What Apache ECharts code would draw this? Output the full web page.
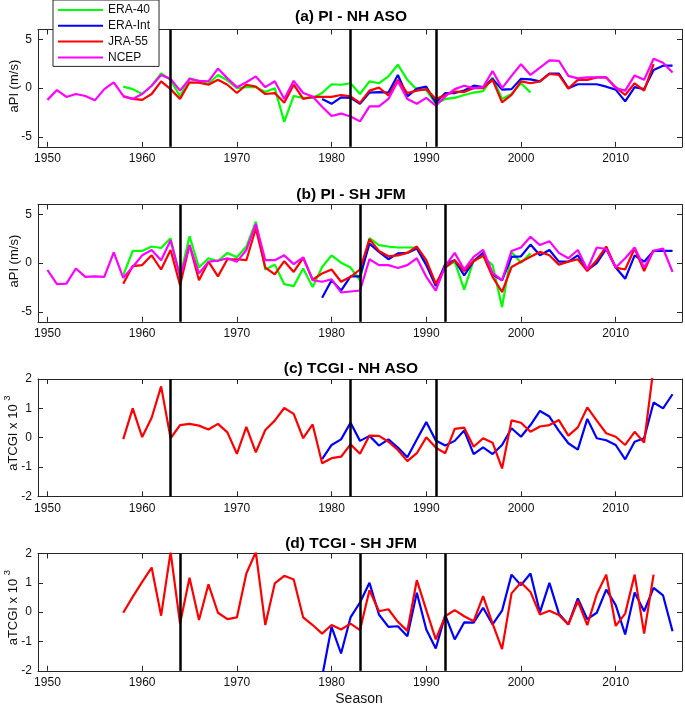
<!DOCTYPE html>
<html><head><meta charset="utf-8">
<script src="https://cdn.jsdelivr.net/npm/echarts@6/dist/echarts.min.js"></script>
<style>html,body{margin:0;padding:0;background:#fff}#c{width:685px;height:706px}</style>
</head><body><div id="c"></div><script>
// ---------- DATA ----------
const seriesNames = ['ERA-40', 'ERA-Int', 'JRA-55', 'NCEP'];
const seriesColors = ['#00ff00', '#0000ff', '#ff0000', '#ff00ff'];
const startERA40 = 1958, startERAInt = 1979, startJRA55 = 1958, startNCEP = 1950;
const xTickLabels = [1950, 1960, 1970, 1980, 1990, 2000, 2010];
const titles = ['(a) PI - NH ASO', '(b) PI - SH JFM', '(c) TCGI - NH ASO', '(d) TCGI - SH JFM'];
const eruptionsNH = [1963, 1982, 1991];
const eruptionsSH = [1964, 1983, 1992];

// (a) PI - NH ASO
const a_ERA40 = [0.15,-0.1,-0.6,0.25,1.5,0.85,-0.85,1.0,0.7,0.45,
  1.35,0.8,0,0.1,0.1,-0.4,0,-3.45,-0.8,-1.0,
  -1.0,-0.5,0.4,0.35,0.5,-0.6,0.7,0.5,1.2,2.4,
  0.85,-0.15,-0.2,-1.6,-1.1,-1.0,-0.7,-0.45,-0.3,1.1,
  -1.1,-0.6,0.5,-0.45];
const a_ERAInt = [-1.1,-1.6,-0.95,-1.0,-1.6,-0.45,-0.4,-0.45,1.35,-0.85,
  -0.05,0.15,-1.5,-0.5,-0.5,-0.25,0.25,0.1,0.95,-0.15,
  -0.1,0.95,0.9,0.7,1.5,1.5,0,0.4,0.4,0.4,
  0.15,-0.15,-1.35,0.1,-0.1,1.85,2.3,2.3];
const a_JRA55 = [-0.85,-1.1,-1.2,-0.6,0.7,-0.1,-1.1,0.6,0.55,0.35,
  0.85,0.35,-0.5,0.35,0.15,-0.6,-0.5,-1.5,0.35,-1.1,
  -0.9,-0.9,-0.9,-0.7,-0.85,-1.5,-0.25,0.05,-0.75,0.85,
  -0.5,-0.25,-0.1,-1.1,-0.7,-0.35,-0.4,0,0,0.85,
  -1.45,-0.7,0.7,0.5,0.7,1.45,1.35,-0.05,0.85,0.85,
  1.1,1.1,0.1,-0.7,0.5,-0.25,2.45];
const a_NCEP = [-1.2,-0.2,-0.9,-0.6,-0.8,-1.25,-0.1,0.6,-0.8,-1.1,
  -0.6,0.25,1.35,0.95,-0.25,0.95,0.75,0.7,2.0,1.0,
  0.1,0.6,1.2,0.1,0.7,-1.1,0.75,-0.5,-0.85,-1.9,
  -2.85,-2.6,-2.9,-3.4,-1.86,-1.86,-1.1,0.7,-1.1,-1.6,
  -1.0,-1.8,-0.85,-0.1,0.25,0,0.1,1.75,0,1.25,
  2.45,1.35,2.1,2.85,2.8,1.25,1.0,1.1,1.1,1.1,
  0,-0.25,1.3,0.85,3.0,2.6,1.6];

// (b) PI - SH JFM
const b_ERA40 = [-1.25,1.25,1.25,1.7,1.55,2.55,-1.4,2.75,-0.45,0.5,
  0.2,1.05,0.6,1.7,4.25,-0.65,-0.15,-2.15,-2.35,-0.55,
  -2.45,-0.4,0.8,0.05,-0.45,-1.75,2.55,1.85,1.7,1.6,
  1.6,1.6,0.15,-2.25,-0.4,0.15,-2.7,0.3,0.65,-0.2,
  -4.5,1.15,0.05,1.0];
const b_ERAInt = [-3.55,-1.75,-2.8,-1.35,-1.35,2.0,1.15,0.4,1.0,1.05,
  1.5,-0.2,-2.35,-0.1,0.3,-1.25,0.2,1.05,-1.15,-1.75,
  0.65,0.7,1.9,0.8,1.35,0.15,0.15,0.8,-0.7,0,
  1.45,-0.45,-1.6,0.8,0.15,1.25,1.25,1.25];
const b_JRA55 = [-2.1,-0.3,-0.2,0.8,-0.65,1.35,-2.25,1.85,-1.75,0.15,
  -1.35,0.4,0.4,0.3,3.55,-0.45,-1.15,0.2,-0.9,0.55,
  -1.7,-1.05,-0.65,-1.9,-1.4,-0.65,2.45,1.25,0.7,0.8,
  1.05,1.7,0.3,-2.1,-0.45,0.3,-0.8,0.2,0.8,-1.4,
  -2.95,-0.4,0.15,0.65,1.15,0.8,-0.15,0.15,0.4,-0.8,
  0.3,1.7,-0.45,-0.65,1.5,-0.8,1.35];
const b_NCEP = [-0.7,-2.15,-2.1,-0.55,-1.4,-1.35,-1.4,1.1,-1.5,-0.4,
  0.8,1.35,0.3,2.35,-1.4,1.85,-1.05,0.15,0.25,0.5,
  0.15,1.35,4.0,0.3,0.3,0.8,-0.1,0.6,-1.75,-1.9,
  -1.65,-3.0,-2.9,-2.8,0.4,-0.2,-0.2,-0.5,-0.2,0.5,
  -1.4,-2.8,-0.3,1.05,-0.65,0.65,1.35,-1.0,-1.75,1.25,
  1.6,2.7,1.85,2.25,1.05,0.5,1.35,-0.65,1.6,1.45,
  -0.45,0.5,1.6,-0.45,1.25,1.5,-0.9];

// (c) TCGI - NH ASO
const c_ERAInt = [-0.73,-0.25,-0.06,0.51,-0.11,0.06,-0.27,-0.06,-0.34,-0.67,
  -0.06,0.53,-0.1,-0.27,-0.11,0.24,-0.56,-0.33,-0.56,-0.25,
  0.32,0.03,0.43,0.91,0.72,0.23,-0.19,-0.41,0.64,-0.02,
  -0.09,-0.25,-0.74,-0.14,-0.02,1.2,1.0,1.48];
const c_JRA55 = [-0.05,1.0,0.02,0.68,1.75,-0.02,0.43,0.47,0.41,0.28,
  0.47,0.18,-0.55,0.37,-0.5,0.26,0.58,1.01,0.81,-0.02,
  0.45,-0.87,-0.7,-0.65,-0.23,-0.55,0.07,0.06,-0.14,-0.42,
  -0.8,-0.53,0.01,-0.34,-0.53,0.3,0.34,-0.31,-0.02,-0.17,
  -1.05,0.59,0.51,0.2,0.38,0.43,0.6,0.07,0.35,1.03,
  0.58,0.15,0.03,-0.25,0.2,-0.17,2.4];

// (d) TCGI - SH JFM
const d_ERAInt = [-2.2,-0.5,-1.41,-0.18,0.33,1.0,-0.08,-0.5,-0.48,-0.82,
  0.66,-0.59,-1.24,-0.1,-0.93,-0.35,-0.36,0.15,-0.42,0.05,
  1.28,0.92,1.32,-0.01,1.0,-0.05,-0.42,0.47,-0.24,-0.02,
  0.77,0.24,-0.76,0.67,0.03,0.83,0.57,-0.65];
const d_JRA55 = [-0.02,0.52,1.03,1.52,-0.12,2.05,-0.39,1.17,-0.27,0.95,
  -0.02,-0.24,-0.18,1.32,2.05,-0.44,0.98,1.24,1.11,-0.18,
  -0.44,-0.73,-0.44,-0.59,-0.39,-0.61,0.75,0.03,0.1,-0.33,
  -0.64,1.09,0.07,-0.93,-0.14,0.07,-0.14,-0.31,0.55,-0.39,
  -1.26,0.64,1.01,0.69,-0.08,0.05,-0.1,-0.42,0.38,-0.44,
  0.61,1.28,-0.47,-0.05,1.28,-0.73,1.28];

// ---------- BUILD ----------
const FONT = '"Liberation Sans", Arial, Helvetica, sans-serif';
const AX = '#262626';
function pairs(start, vals) { return vals.map((v, i) => [start + i, v]); }

const panels = [
  { lines: [['ERA-40', startERA40, a_ERA40], ['ERA-Int', startERAInt, a_ERAInt], ['JRA-55', startJRA55, a_JRA55], ['NCEP', startNCEP, a_NCEP]],
    ymin: -6, ymax: 6, ystep: 5, vlines: eruptionsNH, ylabel: 'aPI (m/s)' },
  { lines: [['ERA-40', startERA40, b_ERA40], ['ERA-Int', startERAInt, b_ERAInt], ['JRA-55', startJRA55, b_JRA55], ['NCEP', startNCEP, b_NCEP]],
    ymin: -6, ymax: 6, ystep: 5, vlines: eruptionsSH, ylabel: 'aPI (m/s)' },
  { lines: [['ERA-Int', startERAInt, c_ERAInt], ['JRA-55', startJRA55, c_JRA55]],
    ymin: -2, ymax: 2, ystep: 1, vlines: eruptionsNH, ylabel: 'tcgi' },
  { lines: [['ERA-Int', startERAInt, d_ERAInt], ['JRA-55', startJRA55, d_JRA55]],
    ymin: -2, ymax: 2, ystep: 1, vlines: eruptionsSH, ylabel: 'tcgi' }
];

const gridTops = [29.5, 204.5, 379, 553.5];
const titleOffsets = [-12.5, -9.5, -10, -10];
const gridH = 117.3;
const grid = [], xAxis = [], yAxis = [], series = [], graphic = [];

panels.forEach((p, i) => {
  grid.push({ left: 38, width: 645, top: gridTops[i], height: gridH, containLabel: false });
  const xBase = {
    type: 'value', gridIndex: i, min: 1949, max: 2017, minInterval: 10, maxInterval: 10, splitNumber: 7,
    axisLine: { show: true, onZero: false, lineStyle: { color: AX, width: 1 } },
    axisTick: { show: true, inside: true, length: 5, lineStyle: { color: AX, width: 1 } },
    splitLine: { show: false }
  };
  xAxis.push(Object.assign({}, xBase, { position: 'bottom',
    axisLabel: { show: true, color: '#111', fontSize: 12, fontFamily: FONT, margin: 6,
      formatter: v => (xTickLabels.indexOf(v) >= 0 ? String(v) : '') } }));
  xAxis.push(Object.assign({}, xBase, { position: 'top', axisLabel: { show: false } }));
  const yBase = {
    type: 'value', gridIndex: i, min: p.ymin, max: p.ymax,
    axisLine: { show: true, onZero: false, lineStyle: { color: AX, width: 1 } },
    axisTick: { show: true, inside: true, length: 5, lineStyle: { color: AX, width: 1 } },
    splitLine: { show: false }
  };
  if (p.ymin % p.ystep === 0) { yBase.interval = p.ystep; }
  else { yBase.minInterval = p.ystep; yBase.maxInterval = p.ystep; }
  yAxis.push(Object.assign({}, yBase, { position: 'left',
    axisLabel: { show: true, color: '#111', fontSize: 12, fontFamily: FONT, margin: 6,
      formatter: v => (v % p.ystep === 0 ? String(v) : '') } }));
  yAxis.push(Object.assign({}, yBase, { position: 'right', axisLabel: { show: false } }));

  p.lines.forEach((ln, k) => {
    const ci = seriesNames.indexOf(ln[0]);
    const s = {
      type: 'line', name: ln[0], xAxisIndex: 2 * i, yAxisIndex: 2 * i,
      data: pairs(ln[1], ln[2]), symbol: 'none', showSymbol: false, clip: true,
      lineStyle: { width: 2.2, color: seriesColors[ci] }, itemStyle: { color: seriesColors[ci] },
      animation: false, z: 3
    };
    if (k === 0) {
      s.markLine = { silent: true, symbol: ['none', 'none'], label: { show: false },
        lineStyle: { color: '#000', width: 2.5, type: 'solid' }, animation: false,
        data: p.vlines.map(x => ({ xAxis: x })) };
    }
    series.push(s);
  });

  // title
  graphic.push({ type: 'text', x: 351, y: gridTops[i] + titleOffsets[i], z: 10,
    style: { text: titles[i], textAlign: 'center', textVerticalAlign: 'middle',
      fontSize: 15.5, fontWeight: 'bold', fontFamily: FONT, fill: '#000' } });
  // y label
  const cy = gridTops[i] + gridH / 2;
  if (p.ylabel === 'tcgi') {
    graphic.push({ type: 'text', x: 13, y: cy - 4.5, rotation: Math.PI / 2, z: 10,
      style: { text: 'aTCGI x 10 {s|3}', textAlign: 'center', textVerticalAlign: 'middle',
        fontSize: 13, fontFamily: FONT, fill: '#111', lineHeight: 22,
        rich: { s: { fontSize: 9.5, fontFamily: FONT, fill: '#111', verticalAlign: 'top', lineHeight: 11 } } } });
  } else {
    graphic.push({ type: 'text', x: 14, y: cy - 2, rotation: Math.PI / 2, z: 10,
      style: { text: p.ylabel, textAlign: 'center', textVerticalAlign: 'middle',
        fontSize: 13, fontFamily: FONT, fill: '#111' } });
  }
});

graphic.push({ type: 'text', x: 359, y: 699, z: 10,
  style: { text: 'Season', textAlign: 'center', textVerticalAlign: 'middle',
    fontSize: 14, fontFamily: FONT, fill: '#111' } });

const chart = echarts.init(document.getElementById('c'), null, { renderer: 'canvas' });
chart.setOption({
  backgroundColor: '#fff',
  animation: false,
  grid, xAxis, yAxis, series, graphic,
  legend: {
    data: seriesNames.map(n => ({ name: n, icon: 'rect' })),
    left: 53, top: 0, orient: 'vertical',
    itemWidth: 45, itemHeight: 2, itemGap: 1.8, padding: [3, 9, 2, 5],
    backgroundColor: '#fff', borderColor: AX, borderWidth: 1, borderRadius: 0,
    selectedMode: false, z: 20,
    textStyle: { fontSize: 12, color: '#111', fontFamily: FONT, lineHeight: 14 }
  }
});
</script></body></html>
